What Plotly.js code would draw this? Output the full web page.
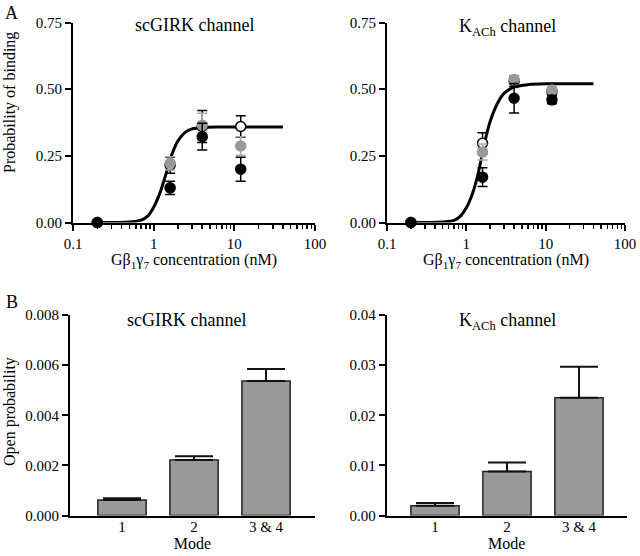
<!DOCTYPE html>
<html>
<head>
<meta charset="utf-8">
<script src="https://cdn.plot.ly/plotly-3.0.1.min.js"></script>
<style>html,body{margin:0;padding:0;background:#fff;}#chart{width:640px;height:556px;}</style>
</head>
<body>
<div id="chart"></div>
<script>
// ---- data ----
const conc = [0.2, 1.6, 4, 12];
const scBlack = [0, 0.13, 0.322, 0.20];
const scBlackErr = [0, 0.025, 0.05, 0.045];
const scGray = [0, 0.222, 0.365, 0.287];
const scGrayErr = [0, 0.025, 0.045, 0.035];
const scOpen = [0, 0.215, 0.36, 0.36];
const scOpenErr = [0, 0.03, 0.06, 0.04];

const kBlack = [0, 0.17, 0.466, 0.46];
const kBlackErr = [0, 0.035, 0.055, 0.015];
const kGray = [0, 0.264, 0.536, 0.497];
const kGrayErr = [0, 0.03, 0.015, 0.01];
const kOpen = [0, 0.297, 0.53, 0.49];
const kOpenErr = [0, 0.04, 0.02, 0.01];

const fitX = [0.2, 0.5, 0.7, 0.85, 1, 1.2, 1.4, 1.6, 1.8, 2, 2.5, 3, 4, 6, 10, 40];
const fitSc = [0, 0.002, 0.009, 0.025, 0.057, 0.112, 0.175, 0.235, 0.278, 0.306, 0.34, 0.351, 0.356, 0.358, 0.358, 0.358];
const fitK = [0, 0.002, 0.008, 0.025, 0.055, 0.11, 0.18, 0.26, 0.33, 0.38, 0.45, 0.485, 0.508, 0.517, 0.52, 0.52];

const modes = ['1', '2', '3 & 4'];
const scPo = [0.00062, 0.00221, 0.00537];
const scPoErr = [0.00007, 0.00015, 0.00048];
const kPo = [0.00193, 0.00876, 0.0235];
const kPoErr = [0.00054, 0.0018, 0.0062];

const majorVals = [0.1, 1, 10, 100];
const majorText = ['0.1', '1', '10', '100'];
const minorDigits = [2, 3, 4, 5, 6, 7, 8, 9];
const minorVals = [];
majorVals.slice(0, 3).forEach(d => minorDigits.forEach(k => minorVals.push(k * d)));

// ---- styles ----
const GRAY = '#999999';
const FONT = 'Liberation Serif, Times New Roman, serif';

function pts(x, y, err, xa, ya, fill, line, errColor) {
  return {
    x: x, y: y, xaxis: xa, yaxis: ya, type: 'scatter', mode: 'markers',
    cliponaxis: false, showlegend: false,
    marker: {size: 10, color: fill, line: {color: line, width: 1.5}},
    error_y: {type: 'data', array: err, visible: true, color: errColor, thickness: 1.5, width: 5}
  };
}
function fit(y, xa, ya) {
  return {x: fitX, y: y, xaxis: xa, yaxis: ya, type: 'scatter', mode: 'lines',
    line: {color: 'black', width: 3, shape: 'spline', smoothing: 0.8}, showlegend: false, cliponaxis: false};
}
function bars(y, err, xa, ya) {
  return {x: modes, y: y, xaxis: xa, yaxis: ya, type: 'bar', showlegend: false,
    marker: {color: GRAY, line: {color: '#222', width: 1.5}},
    error_y: {type: 'data', array: err, arrayminus: [0, 0, 0], symmetric: false, visible: true,
      color: '#111', thickness: 2, width: 19}};
}

const traces = [
  fit(fitSc, 'x', 'y'),
  pts(conc, scOpen, scOpenErr, 'x', 'y', 'white', 'black', 'black'),
  pts(conc, scGray, scGrayErr, 'x', 'y', GRAY, GRAY, '#aaaaaa'),
  pts(conc, scBlack, scBlackErr, 'x', 'y', 'black', 'black', 'black'),
  fit(fitK, 'x2', 'y2'),
  pts(conc, kOpen, kOpenErr, 'x2', 'y2', 'white', 'black', 'black'),
  pts(conc, kGray, kGrayErr, 'x2', 'y2', GRAY, GRAY, '#aaaaaa'),
  pts(conc, kBlack, kBlackErr, 'x2', 'y2', 'black', 'black', 'black'),
  bars(scPo, scPoErr, 'x3', 'y3'),
  bars(kPo, kPoErr, 'x4', 'y4')
];

function logAxis(domain) {
  return {
    type: 'log', domain: domain, range: [-1, 2],
    tickmode: 'array', tickvals: majorVals, ticktext: majorText,
    ticks: 'outside', ticklen: 6, tickwidth: 2, tickcolor: 'black',
    minor: {tickmode: 'array', tickvals: minorVals, ticks: 'outside', ticklen: 4, tickwidth: 1.5, tickcolor: 'black'},
    showline: true, linecolor: 'black', linewidth: 2, showgrid: false, zeroline: false,
    tickfont: {size: 15}, fixedrange: true,
    title: {text: 'Gβ<sub>1</sub>γ<sub>7</sub> concentration (nM)', font: {size: 16}, standoff: 3}
  };
}
function linAxis(domain, range, dtick, fmt) {
  return {
    domain: domain, range: range, dtick: dtick, tick0: 0, tickformat: fmt,
    ticks: 'outside', ticklen: 6, tickwidth: 2, tickcolor: 'black',
    showline: true, linecolor: 'black', linewidth: 2, showgrid: false, zeroline: false,
    tickfont: {size: 15}, fixedrange: true
  };
}
function catAxis(domain, range) {
  return {
    type: 'category', domain: domain, range: range,
    ticks: '', ticklabelstandoff: -4,
    showline: true, linecolor: 'black', linewidth: 2, showgrid: false, zeroline: false,
    tickfont: {size: 15}, fixedrange: true,
    title: {text: 'Mode', font: {size: 16}, standoff: 4}
  };
}

const topY = [1 - 222.5/556, 1 - 22.5/556];
const botY = [1 - 515.5/556, 1 - 315/556];
const xL = [73/640, 315/640];
const xR = [387/640, 625/640];

function ann(text, x, y, size, angle) {
  return {text: text, x: x/640, y: 1 - y/556, xref: 'paper', yref: 'paper', showarrow: false,
    font: {size: size}, xanchor: 'center', yanchor: 'middle', textangle: angle || 0};
}

const layout = {
  width: 640, height: 556,
  margin: {l: 0, r: 0, t: 0, b: 0},
  paper_bgcolor: 'white', plot_bgcolor: 'white',
  font: {family: FONT, color: 'black', size: 15},
  bargap: 0.33,
  xaxis: Object.assign(logAxis(xL), {anchor: 'y'}),
  yaxis: Object.assign(linAxis(topY, [0, 0.75], 0.25, '.2f'), {anchor: 'x'}),
  xaxis2: Object.assign(logAxis(xR), {anchor: 'y2'}),
  yaxis2: Object.assign(linAxis(topY, [0, 0.75], 0.25, '.2f'), {anchor: 'x2'}),
  xaxis3: Object.assign(catAxis([70/640, 315/640], [-0.722, 2.68]), {anchor: 'y3'}),
  yaxis3: Object.assign(linAxis(botY, [0, 0.008], 0.002, '.3f'), {anchor: 'x3'}),
  xaxis4: Object.assign(catAxis([386.7/640, 626.7/640], [-0.671, 2.663]), {anchor: 'y4'}),
  yaxis4: Object.assign(linAxis(botY, [0, 0.04], 0.01, '.2f'), {anchor: 'x4'}),
  annotations: [
    ann('A', 11, 13, 18),
    ann('B', 12, 302, 18),
    ann('scGIRK channel', 194, 25, 18),
    ann('K<sub>ACh</sub> channel', 507, 27, 18),
    ann('scGIRK channel', 186, 320, 18),
    ann('K<sub>ACh</sub> channel', 507, 321, 18),
    ann('Probability of binding', 10, 103, 16, -90),
    ann('Open probability', 10, 412, 16, -90)
  ]
};

Plotly.newPlot('chart', traces, layout, {displayModeBar: false, staticPlot: true});
</script>
</body>
</html>
